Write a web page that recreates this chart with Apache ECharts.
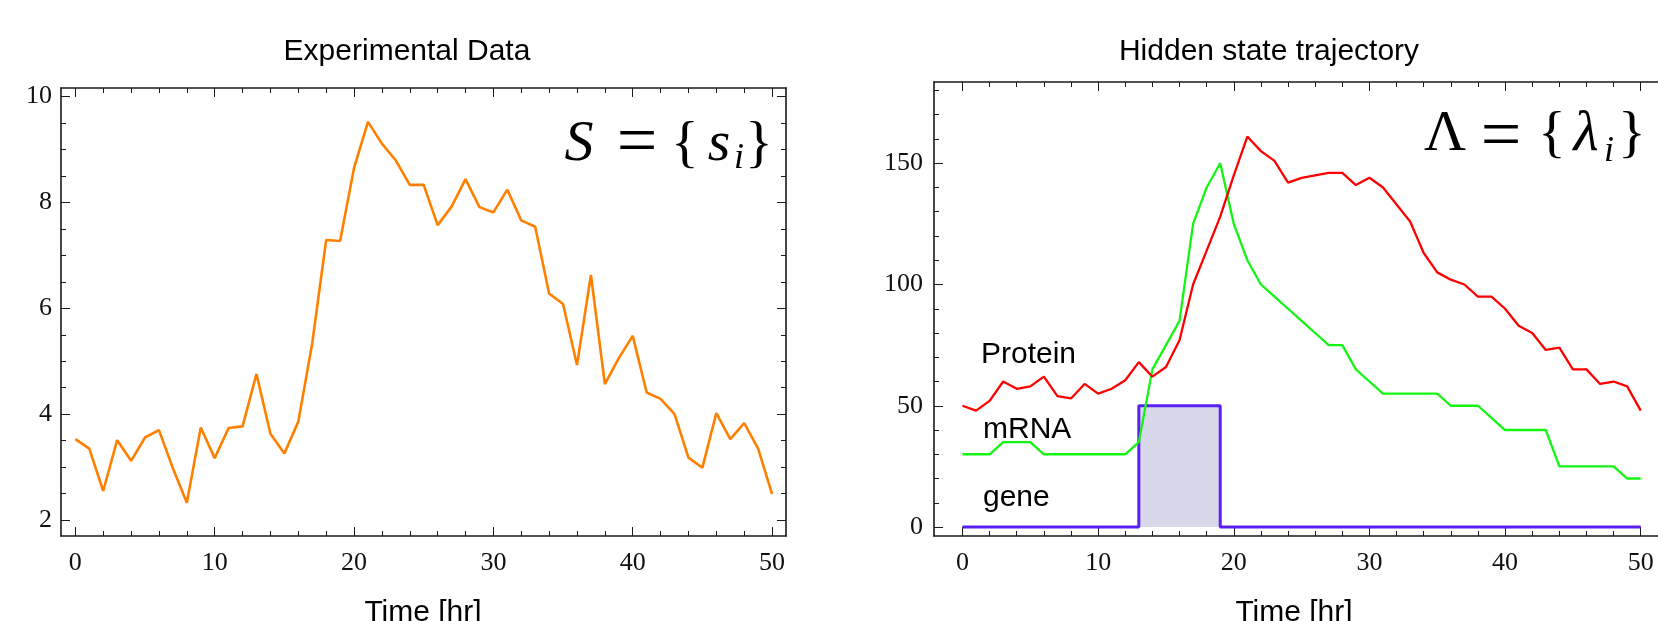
<!DOCTYPE html>
<html>
<head>
<meta charset="utf-8">
<title>Experimental Data / Hidden state trajectory</title>
<script src="https://cdn.jsdelivr.net/npm/echarts@6.0.0/dist/echarts.min.js"></script>
<style>
  html, body { margin: 0; padding: 0; background: #fff; }
  #chart { width: 1658px; height: 621px; }
</style>
</head>
<body>
<div id="chart"></div>
<script>
// time points [hr]
const hours = [0, 1, 2, 3, 4, 5, 6, 7, 8, 9, 10, 11, 12, 13, 14, 15, 16, 17, 18, 19, 20,
  21, 22, 23, 24, 25, 26, 27, 28, 29, 30, 31, 32, 33, 34, 35, 36, 37, 38, 39, 40,
  41, 42, 43, 44, 45, 46, 47, 48, 49, 50];

// left panel: measured signal
const signal = [3.53, 3.35, 2.55, 3.51, 3.12, 3.56, 3.70, 2.98, 2.33, 3.75, 3.17,
  3.74, 3.77, 4.76, 3.63, 3.26, 3.86, 5.34, 7.29, 7.27, 8.65,
  9.52, 9.11, 8.79, 8.33, 8.33, 7.57, 7.92, 8.44, 7.91, 7.81,
  8.24, 7.66, 7.54, 6.28, 6.08, 4.93, 6.63, 4.57, 5.06, 5.48,
  4.41, 4.29, 4.00, 3.18, 2.99, 4.02, 3.53, 3.83, 3.35, 2.49];

// right panel: hidden states
const protein = [50, 48, 52, 60, 57, 58, 62, 54, 53, 59, 55,
  57, 60.5, 68, 62, 66, 77, 100, 114, 128, 145,
  161, 155, 151, 142, 144, 145, 146, 146, 141, 144,
  140, 133, 126, 113, 105, 102, 100, 95, 95, 90,
  83, 80, 73, 74, 65, 65, 59, 60, 58, 48];
const mrna = [30, 30, 30, 35, 35, 35, 30, 30, 30, 30, 30,
  30, 30, 35, 65, 75, 85, 125, 140, 150, 125,
  110, 100, 95, 90, 85, 80, 75, 75, 65, 60,
  55, 55, 55, 55, 55, 50, 50, 50, 45, 40,
  40, 40, 40, 25, 25, 25, 25, 25, 20, 20];
const gene = [0, 0, 0, 0, 0, 0, 0, 0, 0, 0, 0,
  0, 0, 50, 50, 50, 50, 50, 50, 0, 0,
  0, 0, 0, 0, 0, 0, 0, 0, 0, 0,
  0, 0, 0, 0, 0, 0, 0, 0, 0, 0,
  0, 0, 0, 0, 0, 0, 0, 0, 0, 0];

// ticks
const timeTicks = [0, 10, 20, 30, 40, 50];
const timeMinorTicks = [2, 4, 6, 8, 12, 14, 16, 18, 22, 24, 26, 28, 32, 34, 36, 38, 42, 44, 46, 48];
const signalTicks = [2, 4, 6, 8, 10];
const signalMinorTicks = [2.5, 3, 3.5, 4.5, 5, 5.5, 6.5, 7, 7.5, 8.5, 9, 9.5];
const countTicks = [0, 50, 100, 150];
const countMinorTicks = [10, 20, 30, 40, 60, 70, 80, 90, 110, 120, 130, 140, 160, 170, 180];

const frameColor = '#1a1a1a';
const serif = '"Liberation Serif", "Times New Roman", serif';
const sans = '"Liberation Sans", Arial, sans-serif';

function pairs(values) {
  return hours.map((h, i) => [h, values[i]]);
}

// one side of the frame: main ticks (+labels on the bottom/left) and minor ticks
function frameSide(gridIndex, position, min, max, major, minor, showLabels, labelMargin) {
  const main = {
    type: 'value', gridIndex: gridIndex, position: position, min: min, max: max,
    axisLine: { show: true, onZero: false, lineStyle: { color: frameColor, width: 1.6 } },
    axisTick: { show: true, inside: true, length: 9, customValues: major,
      lineStyle: { color: frameColor, width: 1 } },
    axisLabel: { show: showLabels, customValues: major, margin: labelMargin,
      color: '#111', fontFamily: serif, fontSize: 26 },
    splitLine: { show: false }
  };
  const small = {
    type: 'value', gridIndex: gridIndex, position: position, min: min, max: max,
    axisLine: { show: false, onZero: false },
    axisTick: { show: true, inside: true, length: 5, customValues: minor,
      lineStyle: { color: frameColor, width: 1 } },
    axisLabel: { show: false },
    splitLine: { show: false }
  };
  return [main, small];
}

const xAxes = [].concat(
  frameSide(0, 'bottom', -1.03, 51, timeTicks, timeMinorTicks, true, 14),
  frameSide(0, 'top', -1.03, 51, timeTicks, timeMinorTicks, false, 0),
  frameSide(1, 'bottom', -2.1, 52.6, timeTicks, timeMinorTicks, true, 14),
  frameSide(1, 'top', -2.1, 52.6, timeTicks, timeMinorTicks, false, 0)
);
const yAxes = [].concat(
  frameSide(0, 'left', 1.7, 10.16, signalTicks, signalMinorTicks, true, 9),
  frameSide(0, 'right', 1.7, 10.16, signalTicks, signalMinorTicks, false, 0),
  frameSide(1, 'left', -3.7, 183.5, countTicks, countMinorTicks, true, 11),
  frameSide(1, 'right', -3.7, 183.5, countTicks, countMinorTicks, false, 0)
);

function txt(text, x, y, font, align) {
  return {
    type: 'text', x: x, y: y, silent: true,
    style: { text: text, font: font, fill: '#000',
      align: align || 'center', textAlign: align || 'center',
      verticalAlign: 'middle', textVerticalAlign: 'middle' }
  };
}

const chart = echarts.init(document.getElementById('chart'));

chart.setOption({
  animation: false,
  backgroundColor: '#fff',
  grid: [
    { left: 61, top: 88, width: 725, height: 448, outerBoundsMode: 'none' },
    { left: 934, top: 82, width: 742, height: 454, outerBoundsMode: 'none' }
  ],
  xAxis: xAxes,
  yAxis: yAxes,
  graphic: [
    txt('Experimental Data', 407, 52, '30px ' + sans),
    txt('Hidden state trajectory', 1269, 52, '30px ' + sans),
    txt('Time [hr]', 423, 613, '30px ' + sans),
    txt('Time [hr]', 1294, 613, '30px ' + sans),
    // S = {s_i}
    txt('S', 579, 145, 'italic 58px ' + serif),
    txt('=', 637, 145, '72px ' + serif),
    txt('{', 685, 146, '58px ' + serif),
    txt('s', 719, 145, 'italic 58px ' + serif),
    txt('i', 739, 159, 'italic 36px ' + serif),
    txt('}', 759, 146, '58px ' + serif),
    // Lambda = {lambda_i}
    txt('Λ', 1445, 135, '58px ' + serif),
    txt('=', 1501, 139, '72px ' + serif),
    txt('{', 1552, 136, '58px ' + serif),
    txt('λ', 1586, 135, 'italic 58px ' + serif),
    txt('i', 1609, 152, 'italic 36px ' + serif),
    txt('}', 1632, 136, '58px ' + serif),
    // curve labels
    txt('Protein', 981, 354.6, '30px ' + sans, 'left'),
    txt('mRNA', 983, 429.6, '30px ' + sans, 'left'),
    txt('gene', 983, 497.6, '30px ' + sans, 'left')
  ],
  series: [
    {
      name: 'signal', type: 'line', xAxisIndex: 0, yAxisIndex: 0,
      data: pairs(signal), symbol: 'none',
      lineStyle: { color: '#ff8000', width: 2.6 }
    },
    {
      name: 'gene', type: 'line', xAxisIndex: 4, yAxisIndex: 4,
      data: pairs(gene), symbol: 'none', step: 'end',
      lineStyle: { color: '#5b1ff2', width: 3 },
      areaStyle: { color: '#d8d8ea', opacity: 1 }
    },
    {
      name: 'mRNA', type: 'line', xAxisIndex: 4, yAxisIndex: 4,
      data: pairs(mrna), symbol: 'none',
      lineStyle: { color: '#14f514', width: 2.3 }
    },
    {
      name: 'Protein', type: 'line', xAxisIndex: 4, yAxisIndex: 4,
      data: pairs(protein), symbol: 'none',
      lineStyle: { color: '#ff0000', width: 2.3 }
    }
  ]
});
</script>
</body>
</html>
